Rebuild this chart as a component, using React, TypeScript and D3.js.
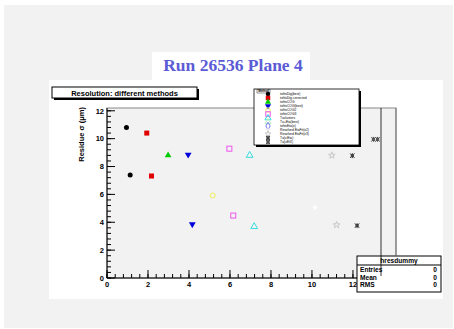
import React from "react";
import * as d3 from "d3";

// ---------- data ----------
const methodNames = [
  "tofitsDig(best)",
  "tofitsDig corrected",
  "tofitsCOG",
  "tofitsCOG(best)",
  "tofitsCOG2",
  "tofitsCOG3",
  "Tuclusters",
  "Tu+Eta(best)",
  "tofitsEta(x)",
  "Resolved EtaFit(x2)",
  "Resolved EtaFit(x3)",
  "Tu(ciEta)",
  "Tu(uEtX)",
];
const methodShapes = ["circle", "square", "triangle", "invtriangle", "ocircle", "osquare", "otriangle", "otriangle", "odiamond", "star", "ostar", "xstar", "xstar"];
const methodColors = ["#000000", "#e00000", "#00cc00", "#0000dd", "#eeee55", "#ee55ee", "#33dddd", "#bbeebb", "#7777ee", "#ffffff", "#c8c8c8", "#444444", "#555555"];
const seriesX: number[][] = [[0.95, 1.13], [1.94, 2.17], [2.98], [3.96, 4.16], [5.16], [5.97, 6.16], [6.96, 7.18], [], [], [9.97, 10.15], [10.97, 11.2], [11.97, 12.2], [13.0, 13.2]];
const seriesY: number[][] = [[10.8, 7.39], [10.4, 7.32], [8.8], [8.85, 3.86], [5.92], [9.28, 4.48], [8.8, 3.69], [], [], [9.73, 5.06], [8.8, 3.81], [8.78, 3.76], [9.95, 9.95]];
const xTicks = [0, 2, 4, 6, 8, 10, 12, 14];
const yTicks = [0, 2, 4, 6, 8, 10, 12];
const statsRows = [["Entries", "0"], ["Mean", "0"], ["RMS", "0"]];

const W = 454, H = 329;
const FL = 107, FR = 396, FT = 108, FB = 278;
const x = d3.scaleLinear().domain([0, 14.1]).range([FL, FR]);
const y = d3.scaleLinear().domain([0, 12.2]).range([FB, FT]);

function Marker({ shape, color, cx, cy, s = 1 }: { shape: string; color: string; cx: number; cy: number; s?: number }) {
  const r = 2.5 * s;
  const t = `translate(${cx},${cy})`;
  switch (shape) {
    case "circle":
      return <circle cx={cx} cy={cy} r={r} fill={color} />;
    case "ocircle":
      return <circle cx={cx} cy={cy} r={r} fill="none" stroke={color} strokeWidth={1} />;
    case "square":
      return <rect x={cx - r} y={cy - r} width={2 * r} height={2 * r} fill={color} />;
    case "osquare":
      return <rect x={cx - r} y={cy - r} width={2 * r} height={2 * r} fill="none" stroke={color} strokeWidth={1} />;
    case "triangle":
      return <path transform={t} d={d3.symbol(d3.symbolTriangle, 20 * s * s)()!} fill={color} />;
    case "otriangle":
      return <path transform={t} d={d3.symbol(d3.symbolTriangle, 20 * s * s)()!} fill="none" stroke={color} strokeWidth={1} />;
    case "invtriangle":
      return <path transform={`${t} rotate(180)`} d={d3.symbol(d3.symbolTriangle, 20 * s * s)()!} fill={color} />;
    case "odiamond":
      return <path transform={t} d={d3.symbol(d3.symbolDiamond, 20 * s * s)()!} fill="none" stroke={color} strokeWidth={1} />;
    case "star":
      return <path transform={t} d={d3.symbol(d3.symbolStar, 14 * s * s)()!} fill={color} />;
    case "ostar":
      return <path transform={t} d={d3.symbol(d3.symbolStar, 14 * s * s)()!} fill="none" stroke={color} strokeWidth={1} />;
    default:
      return (
        <g transform={t} stroke={color} strokeWidth={1}>
          <line x1={-r * 0.9} y1={-r * 0.9} x2={r * 0.9} y2={r * 0.9} />
          <line x1={-r * 0.9} y1={r * 0.9} x2={r * 0.9} y2={-r * 0.9} />
          <line x1={0} y1={-r} x2={0} y2={r} />
          <rect x={-1.1} y={-1.1} width={2.2} height={2.2} fill={color} />
        </g>
      );
  }
}

export default function App() {
  const minorX = d3.range(0, 14.01, 0.4);
  const minorY = d3.range(0, 12.01, 0.4);
  const font = "'Liberation Sans', Arial, sans-serif";
  const legL = 254, legT = 89, legR = 359, legB = 145;
  const legRowY = (i: number) => 94 + i * 4;
  return (
    <div style={{ position: "fixed", left: 0, top: 0 }}>
      <svg width={W} height={H} style={{ display: "block" }}>
        <rect x={0} y={0} width={W} height={H} fill="#ffffff" />
        <rect x={4} y={5} width={449} height={323} fill="#f2f2f2" />
        {/* pad */}
        <rect x={49} y={80} width={394} height={219} fill="#ffffff" />
        {/* title */}
        <rect x={152} y={52} width={158} height={28} fill="#ffffff" />
        <text x={233} y={71} textAnchor="middle" fontFamily="'Liberation Serif', 'Times New Roman', serif" fontWeight="bold" fontSize={17.5} fill="#5b5bd6">
          Run 26536 Plane 4
        </text>
        {/* frame */}
        <rect x={FL} y={FT} width={FR - FL} height={FB - FT} fill="#f2f2f2" stroke="#888" strokeWidth={1} />
        {/* data points */}
        {seriesX.map((xs, i) =>
          xs.map((xv, j) => (
            <Marker key={`${i}-${j}`} shape={methodShapes[i]} color={methodColors[i]} cx={x(xv)} cy={y(seriesY[i][j])} />
          ))
        )}
        {/* axes */}
        <g stroke="#000" strokeWidth={1}>
          <line x1={FL} y1={FT} x2={FL} y2={FB} />
          <line x1={FL} y1={FB} x2={FR} y2={FB} />
          {minorX.map((v, i) => (
            <line key={"mx" + i} x1={x(v)} x2={x(v)} y1={FB} y2={FB - 4} />
          ))}
          {xTicks.map((v) => (
            <line key={"Mx" + v} x1={x(v)} x2={x(v)} y1={FB} y2={FB - 8} />
          ))}
          {minorY.map((v, i) => (
            <line key={"my" + i} x1={FL} x2={FL + 4} y1={y(v)} y2={y(v)} />
          ))}
          {yTicks.map((v) => (
            <line key={"My" + v} x1={FL} x2={FL + 8} y1={y(v)} y2={y(v)} />
          ))}
        </g>
        <g fontFamily={font} fontWeight="bold" fontSize={7.5} fill="#000">
          {xTicks.map((v) => (
            <text key={"lx" + v} x={x(v)} y={FB + 9} textAnchor="middle">
              {v}
            </text>
          ))}
          {yTicks.map((v) => (
            <text key={"ly" + v} x={FL - 3} y={y(v) + 2.8} textAnchor="end">
              {v}
            </text>
          ))}
          <text transform={`translate(84,${FT - 1}) rotate(-90)`} textAnchor="end" fontSize={7.5}>
            Residue σ (μm)
          </text>
        </g>
        {/* histogram title box */}
        <rect x={54} y={89} width={145} height={11} fill="#000" />
        <rect x={52} y={87} width={145} height={11} fill="#fff" stroke="#000" strokeWidth={1} />
        <text x={124.5} y={95.5} textAnchor="middle" fontFamily={font} fontWeight="bold" fontSize={7.5}>
          Resolution: different methods
        </text>
        {/* legend */}
        <rect x={legL + 2} y={legT + 2} width={legR - legL} height={legB - legT} fill="#000" />
        <rect x={legL} y={legT} width={legR - legL} height={legB - legT} fill="#fff" stroke="#000" strokeWidth={0.8} />
        <rect x={257} y={89.5} width={13} height={3.5} fill="#fff" stroke="#000" strokeWidth={0.4} />
        <text x={263.5} y={92.4} textAnchor="middle" fontFamily={font} fontSize={3} fontWeight="bold">
          Method
        </text>
        {methodNames.map((n, i) => (
          <g key={"leg" + i}>
            <Marker shape={methodShapes[i]} color={methodColors[i] === "#ffffff" ? "#eeeeee" : methodColors[i]} cx={268} cy={legRowY(i)} s={0.9} />
            <text x={280} y={legRowY(i) + 1.2} fontFamily={font} fontSize={3.3} fill="#000">
              {n}
            </text>
          </g>
        ))}
        {/* stats box */}
        <rect x={357} y={256} width={84} height={36} fill="#fff" stroke="#000" strokeWidth={1} />
        <line x1={357} x2={441} y1={265} y2={265} stroke="#000" strokeWidth={1} />
        <g fontFamily={font} fontWeight="bold" fontSize={6.6}>
          <text x={399} y={263} textAnchor="middle">
            hresdummy
          </text>
          {statsRows.map((r, i) => (
            <g key={"st" + i}>
              <text x={360} y={272.3 + i * 7.4}>{r[0]}</text>
              <text x={437} y={272.3 + i * 7.4} textAnchor="end">
                {r[1]}
              </text>
            </g>
          ))}
        </g>
        {/* extra dummy-histogram lines */}
        <line x1={381} x2={381} y1={FT} y2={276} stroke="#000" strokeWidth={0.8} />
        <line x1={FR} x2={FR} y1={FT} y2={256} stroke="#777" strokeWidth={1} />
      </svg>
    </div>
  );
}
